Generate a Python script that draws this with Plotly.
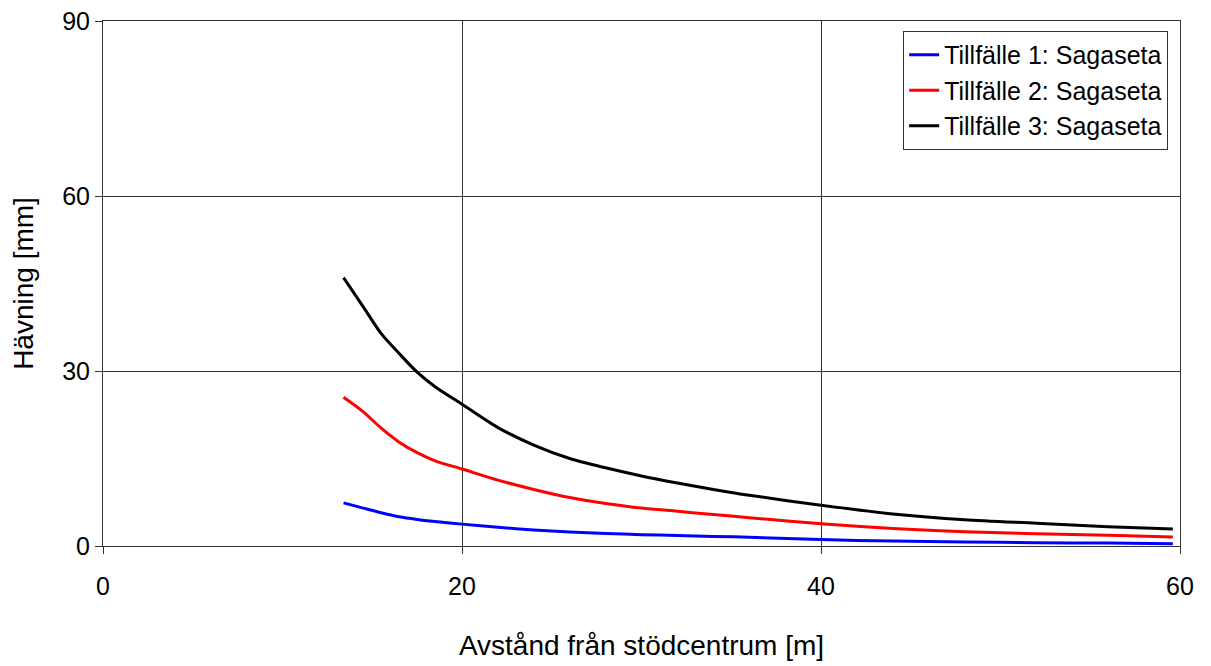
import plotly.graph_objects as go

x_m = [13.4, 14.5, 15.5, 16.5, 17.5, 18.5, 20, 22, 24, 26, 28, 30, 32, 34, 36, 40, 44, 48, 52, 56, 59.6]
tillfalle1 = [7.4, 6.5, 5.7, 5.0, 4.55, 4.2, 3.75, 3.2, 2.75, 2.4, 2.15, 1.95, 1.8, 1.65, 1.5, 1.1, 0.85, 0.7, 0.57, 0.5, 0.4]
tillfalle2 = [25.5, 23.0, 20.2, 17.8, 16.0, 14.6, 13.2, 11.3, 9.7, 8.3, 7.3, 6.5, 5.95, 5.4, 4.85, 3.8, 3.0, 2.45, 2.1, 1.85, 1.55]
tillfalle3 = [46.0, 41.0, 36.4, 33.0, 29.8, 27.3, 24.3, 20.3, 17.3, 15.0, 13.4, 12.0, 10.8, 9.7, 8.7, 7.0, 5.5, 4.5, 3.9, 3.3, 2.9]

series = [
    ("Tillfälle 1: Sagaseta", tillfalle1, "#0000FF"),
    ("Tillfälle 2: Sagaseta", tillfalle2, "#FF0000"),
    ("Tillfälle 3: Sagaseta", tillfalle3, "#000000"),
]

fig = go.Figure()
for name, ys, col in series:
    fig.add_trace(go.Scatter(x=x_m, y=ys, mode="lines", name=name,
                             line=dict(color=col, width=3, shape="spline", smoothing=0.8)))

font = "Liberation Sans, Arial, sans-serif"
fig.update_layout(
    width=1211, height=666,
    margin=dict(l=95, r=39, t=13, b=128, autoexpand=False),
    paper_bgcolor="white", plot_bgcolor="white",
    font=dict(family=font, size=25, color="black"),
    showlegend=True,
    legend=dict(x=0.989, y=0.981, xanchor="right", yanchor="top",
                bgcolor="white", bordercolor="#333333", borderwidth=1,
                font=dict(size=25), tracegroupgap=0, itemwidth=30),
    xaxis=dict(range=[0, 60], tickvals=[0, 20, 40, 60], showgrid=True,
               gridcolor="#333333", gridwidth=1, zeroline=False,
               showline=True, linecolor="#333333", linewidth=1, mirror=True,
               ticks="outside", ticklen=7, tickcolor="#333333",
               ticklabelstandoff=11, ticklabeloverflow="allow", automargin=False,
               title=dict(text="Avstånd från stödcentrum [m]", standoff=36,
                          font=dict(size=28))),
    yaxis=dict(range=[0, 90], tickvals=[0, 30, 60, 90], showgrid=True,
               gridcolor="#333333", gridwidth=1, zeroline=False,
               showline=True, linecolor="#333333", linewidth=1, mirror=True,
               ticks="outside", ticklen=7, tickcolor="#333333",
               ticklabeloverflow="allow", automargin=False,
               title=dict(text="Hävning [mm]", standoff=20, font=dict(size=28))),
)

fig.write_html("out.html")
